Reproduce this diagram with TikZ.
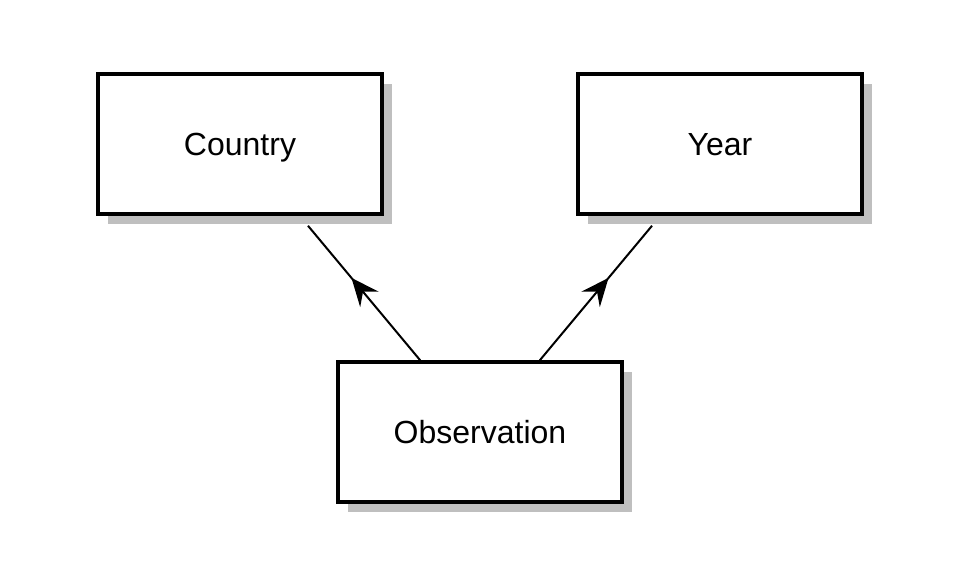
\documentclass[tikz,border=0pt]{standalone}
\usepackage{fontspec}
\setmainfont{Liberation Sans}
\usetikzlibrary{shadows,arrows.meta,decorations.markings}
\begin{document}
\begin{tikzpicture}[x=1pt,y=-1pt]
\useasboundingbox (0,0) rectangle (960,576);
\tikzstyle{every node}=[draw,line width=3.5pt,minimum width=284pt,minimum height=140pt,text height=28pt,text depth=6pt,fill=white,font=\fontsize{32}{38}\selectfont,drop shadow={shadow xshift=10pt,shadow yshift=-10pt,fill=black!25,opacity=1}];
\node (country) at (240,144) {Country};
\node (year) at (720,144) {Year};
\node (obs) at (480,432) {Observation};
\tikzstyle{lien}=[line width=2pt,shorten >=13pt,postaction={decorate},decoration={markings,mark=at position 0.57 with {\arrow{Stealth[length=28pt,width=24pt,inset=10pt]}}}];
\draw[lien] (obs) -- (country);
\draw[lien] (obs) -- (year);
\end{tikzpicture}
\end{document}
